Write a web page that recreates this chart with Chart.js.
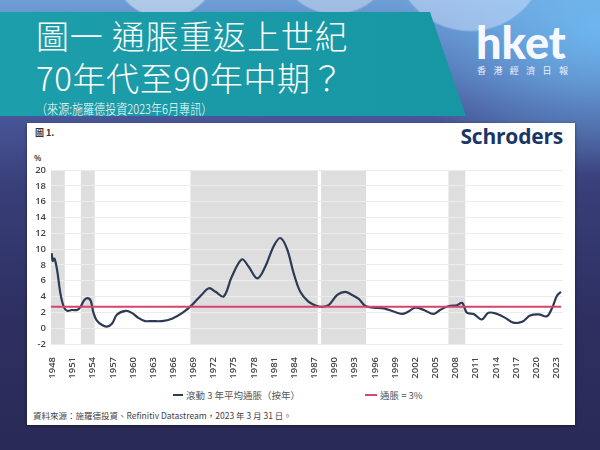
<!DOCTYPE html>
<html lang="zh-Hant">
<head>
<meta charset="utf-8">
<title>圖一 通脹重返上世紀70年代至90年中期？</title>
<script src="https://cdn.jsdelivr.net/npm/chart.js@4.4.1/dist/chart.umd.min.js"></script>
<style>
  html, body { margin: 0; padding: 0; }
  body {
    width: 600px; height: 450px; position: relative; overflow: hidden;
    font-family: "Noto Sans CJK TC", "Noto Sans", sans-serif;
    background:
      radial-gradient(circle at 165px -35px, rgba(255,255,255,.45) 0 52px, rgba(255,255,255,0) 54px),
      radial-gradient(circle at 335px -45px, rgba(255,255,255,.35) 0 58px, rgba(255,255,255,0) 60px),
      radial-gradient(circle at 470px -45px, rgba(220,230,255,.45) 0 75px, rgba(255,255,255,0) 77px),
      radial-gradient(ellipse 210px 150px at 600px 25px, rgba(110,185,240,.95), rgba(110,185,240,0)),
      linear-gradient(180deg, #6e9fd6 0px, #5b7cbc 50px, #4a5a9c 105px, #383e78 190px, #2d2f60 320px, #2a2a57 450px);
  }
  .banner {
    position: absolute; left: 0; top: 12px; width: 470px; height: 104px;
    background: linear-gradient(90deg, #1d9eab, #1796a3);
    clip-path: polygon(0 0, 430px 0, 466px 100%, 0 100%);
  }
  .title { position: absolute; left: 36px; color: #fff; white-space: nowrap; font-weight: 300; }
  .t1 { top: 17px; font-size: 33px; line-height: 36px; letter-spacing: 0.8px; }
  .t2 { top: 59px; font-size: 33px; line-height: 36px; letter-spacing: 0.6px; }
  .t3 { top: 100px; font-size: 13.5px; line-height: 16px; transform: scaleX(0.82); transform-origin: 0 0; }
  .logo { position: absolute; left: 476px; top: 20px; color: #f6f8ff;
    font-family: Lato, "Open Sans", sans-serif; font-weight: 900; font-size: 45px; line-height: 44px; }
  .logo-sub { position: absolute; left: 477px; top: 65px; color: #eef2ff;
    font-size: 9px; line-height: 11px; letter-spacing: 7.4px; white-space: nowrap; }
  .panel { position: absolute; left: 27px; top: 123px; width: 548px; height: 302px;
    background: #fff; box-shadow: 0 1px 3px rgba(0,0,0,.45); }
  .fig { position: absolute; left: 35px; top: 127px; font-size: 9px; line-height: 12px; font-weight: bold; color: #333; }
  .brand { position: absolute; right: 37px; top: 124px; font-family: "Open Sans", sans-serif;
    font-weight: 700; font-size: 21px; line-height: 24px; color: #1c3567; letter-spacing: -0.2px; }
  .pct { position: absolute; left: 34px; top: 153px; font-family: "Open Sans", sans-serif;
    font-size: 8.5px; line-height: 10px; font-weight: 600; color: #444; }
  .legend { position: absolute; top: 389px; font-size: 9.5px; line-height: 12px; color: #555; white-space: nowrap; }
  .legend i { display: inline-block; width: 10px; height: 2px; vertical-align: middle; margin-right: 3px; position: relative; top: -1px; }
  .source { position: absolute; left: 33px; top: 409px; font-size: 8.5px; line-height: 12px; color: #444; white-space: nowrap; }
  #chart { position: absolute; left: 0; top: 0; z-index: 5; }
</style>
</head>
<body>
<div class="banner"></div>
<div class="title t1">圖一 通脹重返上世紀</div>
<div class="title t2">70年代至90年中期？</div>
<div class="title t3">（來源:施羅德投資2023年6月專訊）</div>
<div class="logo">hket</div>
<div class="logo-sub">香港經濟日報</div>

<div class="panel"></div>
<div class="fig">圖 1.</div>
<div class="brand">Schroders</div>
<div class="pct">%</div>
<div class="legend" style="left:173px"><i style="background:#2c3a55"></i>滾動 3 年平均通脹（按年）</div>
<div class="legend" style="left:365px"><i style="background:#d8436d;width:12px"></i>通脹 = 3%</div>
<div class="source">資料來源：施羅德投資、Refinitiv Datastream，2023 年 3 月 31 日。</div>

<canvas id="chart" width="600" height="450"></canvas>

<script>
// X axis tick labels (every 3 years)
const yearTicks = [1948, 1951, 1954, 1957, 1960, 1963, 1966, 1969, 1972, 1975, 1978, 1981, 1984,
                   1987, 1990, 1993, 1996, 1999, 2002, 2005, 2008, 2011, 2014, 2017, 2020, 2023];

// Rolling 3-year average inflation (y/y)
const lineYears = [1947.9, 1948.05, 1948.3, 1948.7, 1949.2, 1949.7, 1950.2, 1950.9, 1951.7, 1952.2,
                   1952.7, 1953.2, 1953.7, 1954.1, 1954.6, 1955.4, 1956.1, 1956.9, 1957.6, 1958.9,
                   1959.9, 1960.8, 1961.8, 1962.8, 1964.3, 1965.8, 1967.3, 1968.8, 1970.3, 1971.3,
                   1972.3, 1973.5, 1974.7, 1976.2, 1977.2, 1978.5, 1979.7, 1980.9, 1981.9, 1982.9,
                   1983.9, 1984.9, 1986.1, 1987.1, 1988.1, 1989.1, 1990.4, 1991.6, 1992.6, 1993.6,
                   1994.6, 1995.8, 1997.3, 1998.8, 2000.0, 2001.0, 2002.0, 2003.3, 2004.7, 2005.7,
                   2007.0, 2008.2, 2009.0, 2009.7, 2010.7, 2011.9, 2012.9, 2014.2, 2015.4, 2016.6,
                   2017.9, 2019.1, 2020.4, 2021.6, 2022.4, 2023.1, 2023.7];
const lineValues = [9.5, 8.5, 8.8, 7.4, 4.4, 2.7, 2.2, 2.3, 2.3, 2.7,
                    3.5, 3.8, 3.5, 2.0, 1.0, 0.4, 0.2, 0.6, 1.7, 2.2,
                    1.9, 1.3, 0.9, 0.9, 0.9, 1.2, 1.9, 2.95, 4.3, 5.05,
                    4.6, 4.0, 6.5, 8.7, 7.8, 6.3, 7.8, 10.3, 11.4, 10.1,
                    7.0, 4.6, 3.35, 2.9, 2.7, 2.9, 4.2, 4.6, 4.2, 3.7,
                    2.8, 2.6, 2.5, 2.1, 1.8, 2.1, 2.6, 2.3, 1.8, 2.3,
                    2.8, 2.9, 3.2, 1.95, 1.8, 1.1, 1.95, 1.8, 1.3, 0.7,
                    0.8, 1.6, 1.75, 1.5, 2.6, 4.1, 4.6];

// Inflation target line
const targetYears = [1947.8, 2023.7];
const targetValues = [2.7, 2.7];

// Shaded periods
const bandStart = [1947.8, 1952.25, 1968.55, 1988.0, 2006.95];
const bandEnd = [1949.85, 1954.3, 1987.5, 1994.7, 2009.45];

const shadeBands = {
    id: 'shadeBands',
    beforeDraw(chart) {
        const { ctx, scales: { x, y } } = chart;
        const top = y.getPixelForValue(20);
        const bottom = y.getPixelForValue(-2);
        ctx.save();
        ctx.fillStyle = '#dedede';
        bandStart.forEach((s, i) => {
            const x0 = x.getPixelForValue(s);
            const x1 = x.getPixelForValue(bandEnd[i]);
            ctx.fillRect(x0, top, x1 - x0, bottom - top);
        });
        ctx.restore();
    }
};

const tickFont = { family: "'Open Sans', sans-serif", size: 9.5, weight: '600' };

new Chart(document.getElementById('chart'), {
    type: 'line',
    data: {
        datasets: [
            {
                label: '通脹 = 3%',
                data: targetYears.map((x, i) => ({ x, y: targetValues[i] })),
                borderColor: '#d8436d',
                borderWidth: 2,
                pointRadius: 0,
                order: 0
            },
            {
                label: '滾動 3 年平均通脹（按年）',
                data: lineYears.map((x, i) => ({ x, y: lineValues[i] })),
                borderColor: '#2c3a55',
                borderWidth: 2.2,
                pointRadius: 0,
                tension: 0.35,
                order: 1
            }
        ]
    },
    options: {
        responsive: false,
        animation: false,
        layout: { padding: { left: 31, right: 37, top: 170, bottom: 66 } },
        plugins: {
            legend: { display: false },
            tooltip: { enabled: false }
        },
        scales: {
            x: {
                type: 'linear',
                min: 1947.8,
                max: 2024,
                grid: { display: false },
                border: { display: false },
                afterBuildTicks: (s) => { s.ticks = yearTicks.map(v => ({ value: v })); },
                afterFit: (s) => { s.height = 40; },
                ticks: {
                    autoSkip: false,
                    minRotation: 90,
                    maxRotation: 90,
                    padding: 5,
                    color: '#444',
                    font: tickFont,
                    callback: (v) => String(v)
                }
            },
            y: {
                min: -2,
                max: 20,
                grid: { color: '#ececec', drawTicks: false },
                border: { display: false },
                afterFit: (s) => { s.width = 20; },
                ticks: { stepSize: 2, padding: 5, color: '#444', font: tickFont }
            }
        }
    },
    plugins: [shadeBands]
});
</script>
</body>
</html>
